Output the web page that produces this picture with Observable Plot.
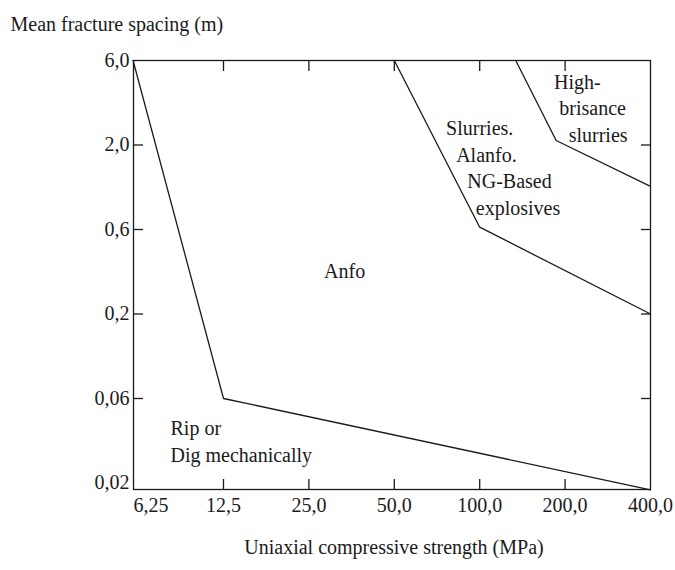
<!DOCTYPE html>
<html><head><meta charset="utf-8">
<script src="https://cdn.jsdelivr.net/npm/d3@7"></script>
<script src="https://cdn.jsdelivr.net/npm/@observablehq/plot@0.6"></script>
<style>body{margin:0;background:#fff}</style>
</head><body><div id="chart"></div>
<script>
// Axis ticks and their labels (comma decimals as in the source)
const xTicks = [6.25, 12.5, 25, 50, 100, 200, 400];
const xTickLabels = ["6,25", "12,5", "25,0", "50,0", "100,0", "200,0", "400,0"];
const yTicks = [0.02, 0.06, 0.2, 0.6, 2, 6];
const yTickLabels = ["0,02", "0,06", "0,2", "0,6", "2,0", "6,0"];

// Region boundaries (strength MPa, spacing m)
const ripBoundaryX = [6.0, 12.5, 400];
const ripBoundaryY = [6.0, 0.06, 0.0183];
const anfoBoundaryX = [50, 100, 400];
const anfoBoundaryY = [6.0, 0.62, 0.2];
const slurryBoundaryX = [134, 186, 400];
const slurryBoundaryY = [6.0, 2.12, 1.11];

// Region labels
const regionLabels = ["High-", "brisance", "slurries", "Slurries.", "Alanfo.", "NG-Based", "explosives", "Anfo"];
const regionLabelX = [221, 250, 261.5, 100, 105.6, 127.4, 136.5, 33.4];
const regionLabelY = [4.53, 3.21, 2.26, 2.48, 1.72, 1.18, 0.81, 0.345];
const ripLabel = ["Rip or\nDig mechanically"];
const ripLabelX = [8.13];
const ripLabelY = [0.0349];

const yAxisTitle = "Mean fracture spacing (m)";
const xAxisTitle = "Uniaxial compressive strength (MPa)";

const ink = "#1a1a1a";
const near = (a, b) => Math.abs(a - b) <= 1e-6 * Math.abs(b);
const xFmt = d => xTickLabels[xTicks.findIndex(t => near(+d, t))];
const yFmt = d => yTickLabels[yTicks.findIndex(t => near(+d, t))];
const toRows = (xs, ys) => xs.map((x, i) => ({x, y: ys[i]}));

const chart = Plot.plot({
  width: 675,
  height: 570,
  marginLeft: 133,
  marginRight: 25,
  marginTop: 60,
  marginBottom: 81,
  style: {fontFamily: "'Liberation Serif', 'Times New Roman', serif", fontSize: "20px", color: ink, background: "#fff"},
  x: {type: "log", base: 2, domain: [6.25, 400], insetLeft: 4.6},
  y: {type: "log", domain: yTicks, insetBottom: 6.5},
  marks: [
    Plot.frame({stroke: ink, strokeWidth: 1.3}),
    Plot.axisX(xTicks.slice(1), {anchor: "bottom", tickSize: 0, tickPadding: 8.5, tickFormat: xFmt, label: null}),
    Plot.axisX([6.25], {anchor: "bottom", tickSize: 0, tickPadding: 8.5, tickFormat: xFmt, textAnchor: "start", dx: -4.6, label: null}),
    Plot.axisX(xTicks.slice(1, -1), {anchor: "bottom", tickSize: -10, tickFormat: () => "", label: null, strokeWidth: 1.3}),
    Plot.axisX(xTicks.slice(1, -1), {anchor: "top", tickSize: -10, tickFormat: () => "", label: null, strokeWidth: 1.3}),
    Plot.axisY(yTicks.slice(1, -1), {anchor: "left", tickSize: -10, tickFormat: () => "", label: null, strokeWidth: 1.3}),
    Plot.axisY(yTicks.slice(1, -1), {anchor: "right", tickSize: -10, tickFormat: () => "", label: null, strokeWidth: 1.3}),
    // y tick labels as text marks (the log axis would blank the 6-mantissa labels)
    Plot.text(yTicks, {y: d => d, frameAnchor: "left", text: yFmt, textAnchor: "end", dx: -4, fill: ink, fontSize: 20}),
    Plot.line(toRows(ripBoundaryX, ripBoundaryY), {x: "x", y: "y", stroke: ink, strokeWidth: 1.3}),
    Plot.line(toRows(anfoBoundaryX, anfoBoundaryY), {x: "x", y: "y", stroke: ink, strokeWidth: 1.3}),
    Plot.line(toRows(slurryBoundaryX, slurryBoundaryY), {x: "x", y: "y", stroke: ink, strokeWidth: 1.3}),
    Plot.text(regionLabels, {x: (d, i) => regionLabelX[i], y: (d, i) => regionLabelY[i], text: d => d, fill: ink, fontSize: 20}),
    Plot.text(ripLabel, {x: (d, i) => ripLabelX[i], y: (d, i) => ripLabelY[i], text: d => d, textAnchor: "start", lineHeight: 1.35, fill: ink, fontSize: 20}),
    Plot.text([yAxisTitle], {frameAnchor: "top-left", text: d => d, textAnchor: "start", dx: -123, dy: -43.7, fill: ink, fontSize: 20}),
    Plot.text([xAxisTitle], {frameAnchor: "bottom", text: d => d, dx: 2, dy: 64, fill: ink, fontSize: 20})
  ]
});
document.getElementById("chart").appendChild(chart);
</script>
</body></html>
